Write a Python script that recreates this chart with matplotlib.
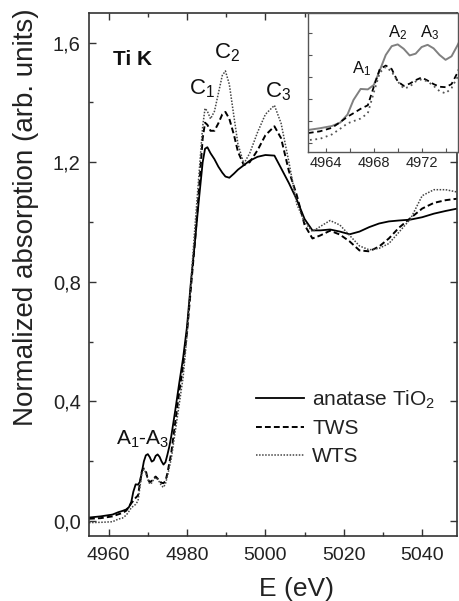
import numpy as np
import matplotlib
matplotlib.use("Agg")
import matplotlib.pyplot as plt
from matplotlib.ticker import MultipleLocator, FuncFormatter

plt.rcParams['font.family'] = ['Liberation Sans', 'DejaVu Sans']
plt.rcParams['mathtext.fontset'] = 'custom'
plt.rcParams['mathtext.rm'] = 'Liberation Sans'
plt.rcParams['mathtext.it'] = 'Liberation Sans:italic'
plt.rcParams['mathtext.bf'] = 'Liberation Sans:bold'
plt.rcParams['mathtext.default'] = 'regular'

# ---- data (energy in eV, normalized absorption) ----
energy = [4955, 4958, 4961, 4962.5, 4963.5, 4964.5, 4965.2, 4965.8, 4966.3, 4966.9,
          4967.5, 4968.0, 4968.5, 4969.0, 4969.5, 4970.0, 4970.5, 4971.0, 4971.5, 4972.0,
          4972.5, 4973.0, 4973.5, 4974.0, 4974.5, 4975.0, 4975.5, 4976, 4977, 4978,
          4979, 4980, 4981, 4982, 4983, 4984, 4984.6, 4985.2, 4986, 4987,
          4988, 4989, 4989.8, 4990.8, 4992, 4993, 4994.5, 4996, 4998, 5000,
          5002.3, 5004, 5006, 5008, 5010, 5012, 5014, 5016.5, 5019, 5021.5,
          5024, 5026.5, 5029, 5031.5, 5034, 5037, 5040, 5043, 5046, 5049]

anatase = [0.012, 0.016, 0.022, 0.030, 0.034, 0.039, 0.047, 0.065, 0.098, 0.123,
           0.122, 0.132, 0.165, 0.200, 0.220, 0.224, 0.214, 0.199, 0.203, 0.218,
           0.223, 0.215, 0.200, 0.189, 0.197, 0.222, 0.250, 0.285, 0.37, 0.46,
           0.545, 0.65, 0.80, 0.93, 1.07, 1.20, 1.245, 1.250, 1.23, 1.21,
           1.185, 1.165, 1.152, 1.148, 1.162, 1.175, 1.19, 1.205, 1.218, 1.224,
           1.222, 1.18, 1.13, 1.075, 1.01, 0.972, 0.972, 0.975, 0.968, 0.959,
           0.968, 0.983, 0.995, 1.002, 1.005, 1.008, 1.016, 1.028, 1.037, 1.045]

tws = [0.008, 0.010, 0.016, 0.023, 0.027, 0.035, 0.048, 0.060, 0.068, 0.078,
       0.086, 0.128, 0.168, 0.176, 0.168, 0.140, 0.130, 0.135, 0.143, 0.149,
       0.142, 0.134, 0.128, 0.127, 0.134, 0.160, 0.195, 0.23, 0.33, 0.43,
       0.52, 0.63, 0.78, 0.93, 1.10, 1.28, 1.332, 1.325, 1.305, 1.305,
       1.33, 1.36, 1.368, 1.345, 1.29, 1.235, 1.19, 1.20, 1.24, 1.29,
       1.32, 1.28, 1.17, 1.09, 0.99, 0.945, 0.955, 0.971, 0.958, 0.935,
       0.905, 0.902, 0.918, 0.945, 0.98, 1.013, 1.045, 1.064, 1.073, 1.078]

wts = [-0.005, -0.004, -0.002, 0.007, 0.010, 0.020, 0.033, 0.045, 0.050, 0.056,
       0.068, 0.115, 0.160, 0.173, 0.162, 0.140, 0.124, 0.128, 0.140, 0.145,
       0.140, 0.130, 0.118, 0.113, 0.125, 0.150, 0.180, 0.21, 0.30, 0.39,
       0.48, 0.62, 0.80, 0.98, 1.15, 1.32, 1.38, 1.37, 1.345, 1.37,
       1.43, 1.49, 1.505, 1.46, 1.35, 1.26, 1.195, 1.23, 1.30, 1.36,
       1.39, 1.33, 1.20, 1.06, 1.00, 0.968, 0.985, 1.005, 0.99, 0.955,
       0.92, 0.907, 0.912, 0.928, 0.965, 1.01, 1.088, 1.108, 1.108, 1.10]

series_labels = ['anatase TiO$_2$', 'TWS', 'WTS']
main_xticks = [4960, 4980, 5000, 5020, 5040]
main_yticks = [0.0, 0.4, 0.8, 1.2, 1.6]
inset_xticks = [4964, 4968, 4972]

# ---- figure ----
fig = plt.figure(figsize=(4.6, 6.01), dpi=100)
ax = fig.add_axes([0.1935, 0.108, 0.801, 0.871])

E = np.array(energy)
styles = [dict(color='black', lw=1.3, ls='-'),
          dict(color='black', lw=1.4, ls=(0, (3, 1.6))),
          dict(color='#444444', lw=1.1, ls=(0, (1, 1)))]
for vals, lab, st in zip([anatase, tws, wts], series_labels, styles):
    ax.plot(E, vals, label=lab, **st)

ax.set_xlim(4955, 5049)
ax.set_ylim(-0.05, 1.7)
ax.set_xticks(main_xticks)
ax.set_yticks(main_yticks)
ax.xaxis.set_minor_locator(MultipleLocator(10))
ax.yaxis.set_minor_locator(MultipleLocator(0.2))
ax.yaxis.set_major_formatter(FuncFormatter(lambda v, p: f"{v:.1f}".replace('.', ',')))
ax.tick_params(which='both', direction='in', top=True, right=True, color='#333333', width=1.0)
ax.tick_params(which='major', length=5, labelcolor='#222222')
ax.tick_params(axis='x', which='major', pad=8, labelsize=14)
ax.tick_params(axis='y', which='major', pad=6, labelsize=14.5)
ax.tick_params(which='minor', length=3)
for s in ax.spines.values():
    s.set_color('#333333')
    s.set_linewidth(1.2)

ax.set_xlabel('E (eV)', fontsize=19, color='#222222')
ax.xaxis.set_label_coords(0.5625, -0.078)
ax.set_ylabel('Normalized absorption (arb. units)', fontsize=20, color='#222222')
ax.yaxis.set_label_coords(-0.135, 0.61)

leg = ax.legend(loc='upper left', bbox_to_anchor=(0.43, 0.298), frameon=False,
                fontsize=15, handlelength=2.3, handletextpad=0.4, labelspacing=0.42,
                borderaxespad=0)
for t in leg.get_texts():
    t.set_color('#222222')

# annotations
ax.text(4961.0, 1.525, 'Ti K', fontsize=15, fontweight='bold', color='#111111')
ax.text(4980.4, 1.425, 'C$_1$', fontsize=16, color='#111111')
ax.text(4987.0, 1.548, 'C$_2$', fontsize=16, color='#111111')
ax.text(5000.0, 1.418, 'C$_3$', fontsize=16, color='#111111')
ax.text(4962.0, 0.254, 'A$_1$-A$_3$', fontsize=15, color='#111111')

# ---- inset ----
ins = fig.add_axes([0.6696, 0.747, 0.325, 0.232])
ins.set_facecolor('white')
istyles = [dict(color='#808080', lw=1.4, ls='-'),
           dict(color='black', lw=1.3, ls=(0, (3, 2))),
           dict(color='#555555', lw=1.3, ls=(0, (1, 2)))]
for vals, st in zip([anatase, tws, wts], istyles):
    ins.plot(E, vals, **st)
ins.set_xlim(4962.5, 4975)
ins.set_ylim(-0.02, 0.296)
ins.set_xticks(inset_xticks)
ins.xaxis.set_minor_locator(MultipleLocator(2))
ins.yaxis.set_major_locator(MultipleLocator(0.05))
ins.set_yticklabels([])
ins.tick_params(which='both', direction='in', color='#555555', width=0.8)
ins.tick_params(which='major', length=3, labelsize=10.5, pad=3, labelcolor='#222222')
ins.tick_params(which='minor', length=3)
for s in ins.spines.values():
    s.set_color('#555555')
    s.set_linewidth(1.0)
ins.text(4966.2, 0.159, 'A$_1$', fontsize=12, color='#111111')
ins.text(4969.2, 0.241, 'A$_2$', fontsize=12, color='#111111')
ins.text(4971.9, 0.241, 'A$_3$', fontsize=12, color='#111111')

fig.savefig('out.png', dpi=100)
